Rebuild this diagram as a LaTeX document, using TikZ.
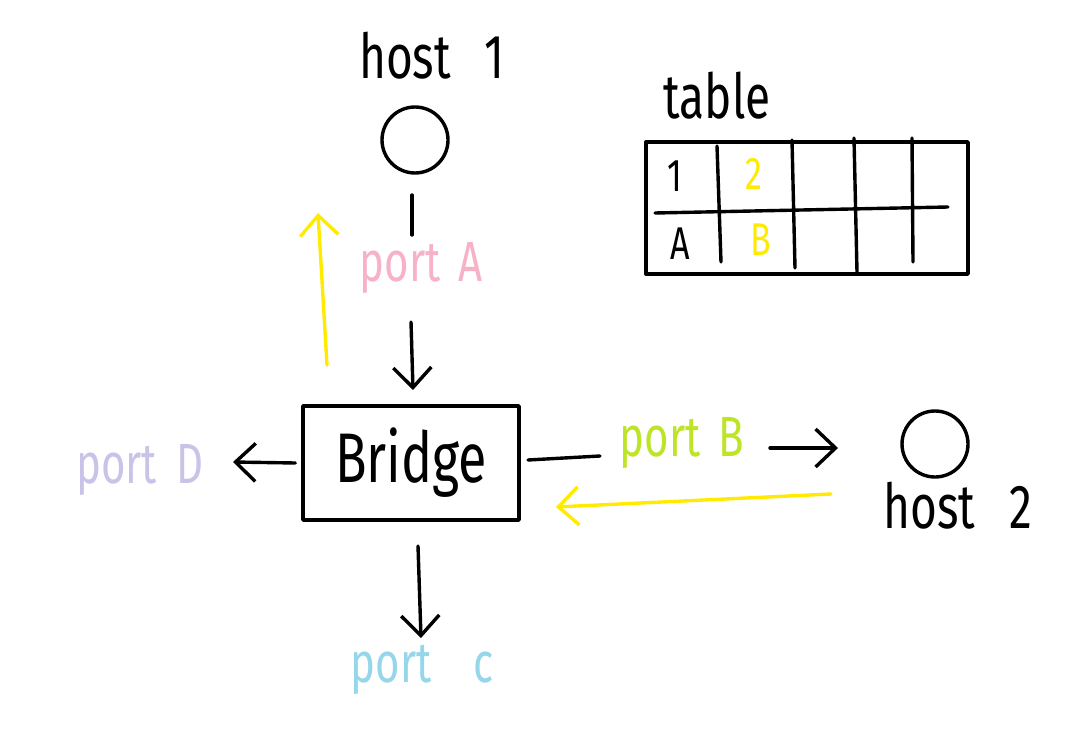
\documentclass[tikz,border=0pt]{standalone}
\usepackage{fontspec}
\setmainfont{Fira Sans}
\usetikzlibrary{arrows.meta}
\definecolor{cpink}{RGB}{247,178,200}
\definecolor{clav}{RGB}{200,196,232}
\definecolor{cgreen}{RGB}{190,228,40}
\definecolor{cblue}{RGB}{150,214,234}
\definecolor{cyel}{RGB}{255,234,0}
\newcommand{\hw}[1]{\scalebox{1}[1.35]{#1}}
\tikzset{
  ink/.style={line width=3.4pt, line cap=round, line join=round},
  arr/.style={ink, -{Straight Barb[length=20pt,width=38pt]}},
  lbl/.style={inner sep=0pt, font=\fontsize{46}{50}\selectfont},
  plbl/.style={inner sep=0pt, font=\fontsize{42}{46}\selectfont},
  cell/.style={inner sep=0pt, font=\fontsize{34}{38}\selectfont},
  hostc/.style={ink, circle, draw, minimum size=66pt, inner sep=0pt}
}
\begin{document}
\begin{tikzpicture}[x=1pt,y=-1pt]
\useasboundingbox (0,0) rectangle (1070,738);
% host 1
\node[lbl] (h1lbl) at (432,56) {\hw{host\hspace{34pt}1}};
\node[hostc] (h1) at (415,140) {};
\coordinate (a1) at (412,195);
\coordinate (a2) at (412,235);
\draw[ink] (a1) -- (a2);
\node[plbl, text=cpink] (pA) at (421,268) {\hw{port\hspace{18pt}A}};
% bridge
\node[ink, draw, minimum width=216pt, minimum height=114pt, inner sep=0pt,
      font=\fontsize{52}{56}\selectfont] (br) at (411,463) {\hw{Bridge}};
\coordinate (a3) at (411,322);
\coordinate (a4) at (413,390);
\draw[arr] (a3) -- (a4);
% yellow up arrow
\coordinate (y1) at (327,365);
\coordinate (y2) at (318,213);
\draw[arr, cyel] (y1) -- (y2);
% port D
\node[plbl, text=clav] (pD) at (140,470) {\hw{port\hspace{20pt}D}};
\draw[arr] (br.west) ++(-6,0) coordinate (d1) -- (233,462) coordinate (d2);
% port C
\coordinate (c1) at (418,546);
\coordinate (c2) at (421,638);
\draw[arr] (c1) -- (c2);
\node[plbl, text=cblue] (pC) at (422,670) {\hw{port\hspace{42pt}c}};
% port B
\node[plbl, text=cgreen] (pB) at (682,443) {\hw{port\hspace{18pt}B}};
\coordinate (b1) at (528,460);
\coordinate (b2) at (600,456);
\draw[ink] (b1) -- (b2);
\coordinate (b3) at (770,448);
\coordinate (b4) at (838,448);
\draw[arr] (b3) -- (b4);
% host 2
\node[hostc] (h2) at (935,444) {};
\node[lbl] (h2lbl) at (958,506) {\hw{host\hspace{34pt}2}};
% yellow left arrow
\coordinate (y3) at (831,494);
\coordinate (y4) at (556,507);
\draw[arr, cyel] (y3) -- (y4);
% table
\node[lbl] (tlbl) at (717,96) {\hw{table}};
\coordinate (t1) at (646,142);
\coordinate (t2) at (968,274);
\draw[ink] (t1) rectangle (t2);
\draw[ink] (655,213) -- (948,207);
\draw[ink] (717,146) -- (721,262);
\draw[ink] (792,140) -- (795,268);
\draw[ink] (854,138) -- (857,272);
\draw[ink] (912,138) -- (913,262);
\node[cell] (c11) at (675,176) {\hw{1}};
\node[cell, text=cyel] (c12) at (754,174) {\hw{2}};
\node[cell] (c21) at (680,244) {\hw{A}};
\node[cell, text=cyel] (c22) at (761,240) {\hw{B}};
\end{tikzpicture}
\end{document}
